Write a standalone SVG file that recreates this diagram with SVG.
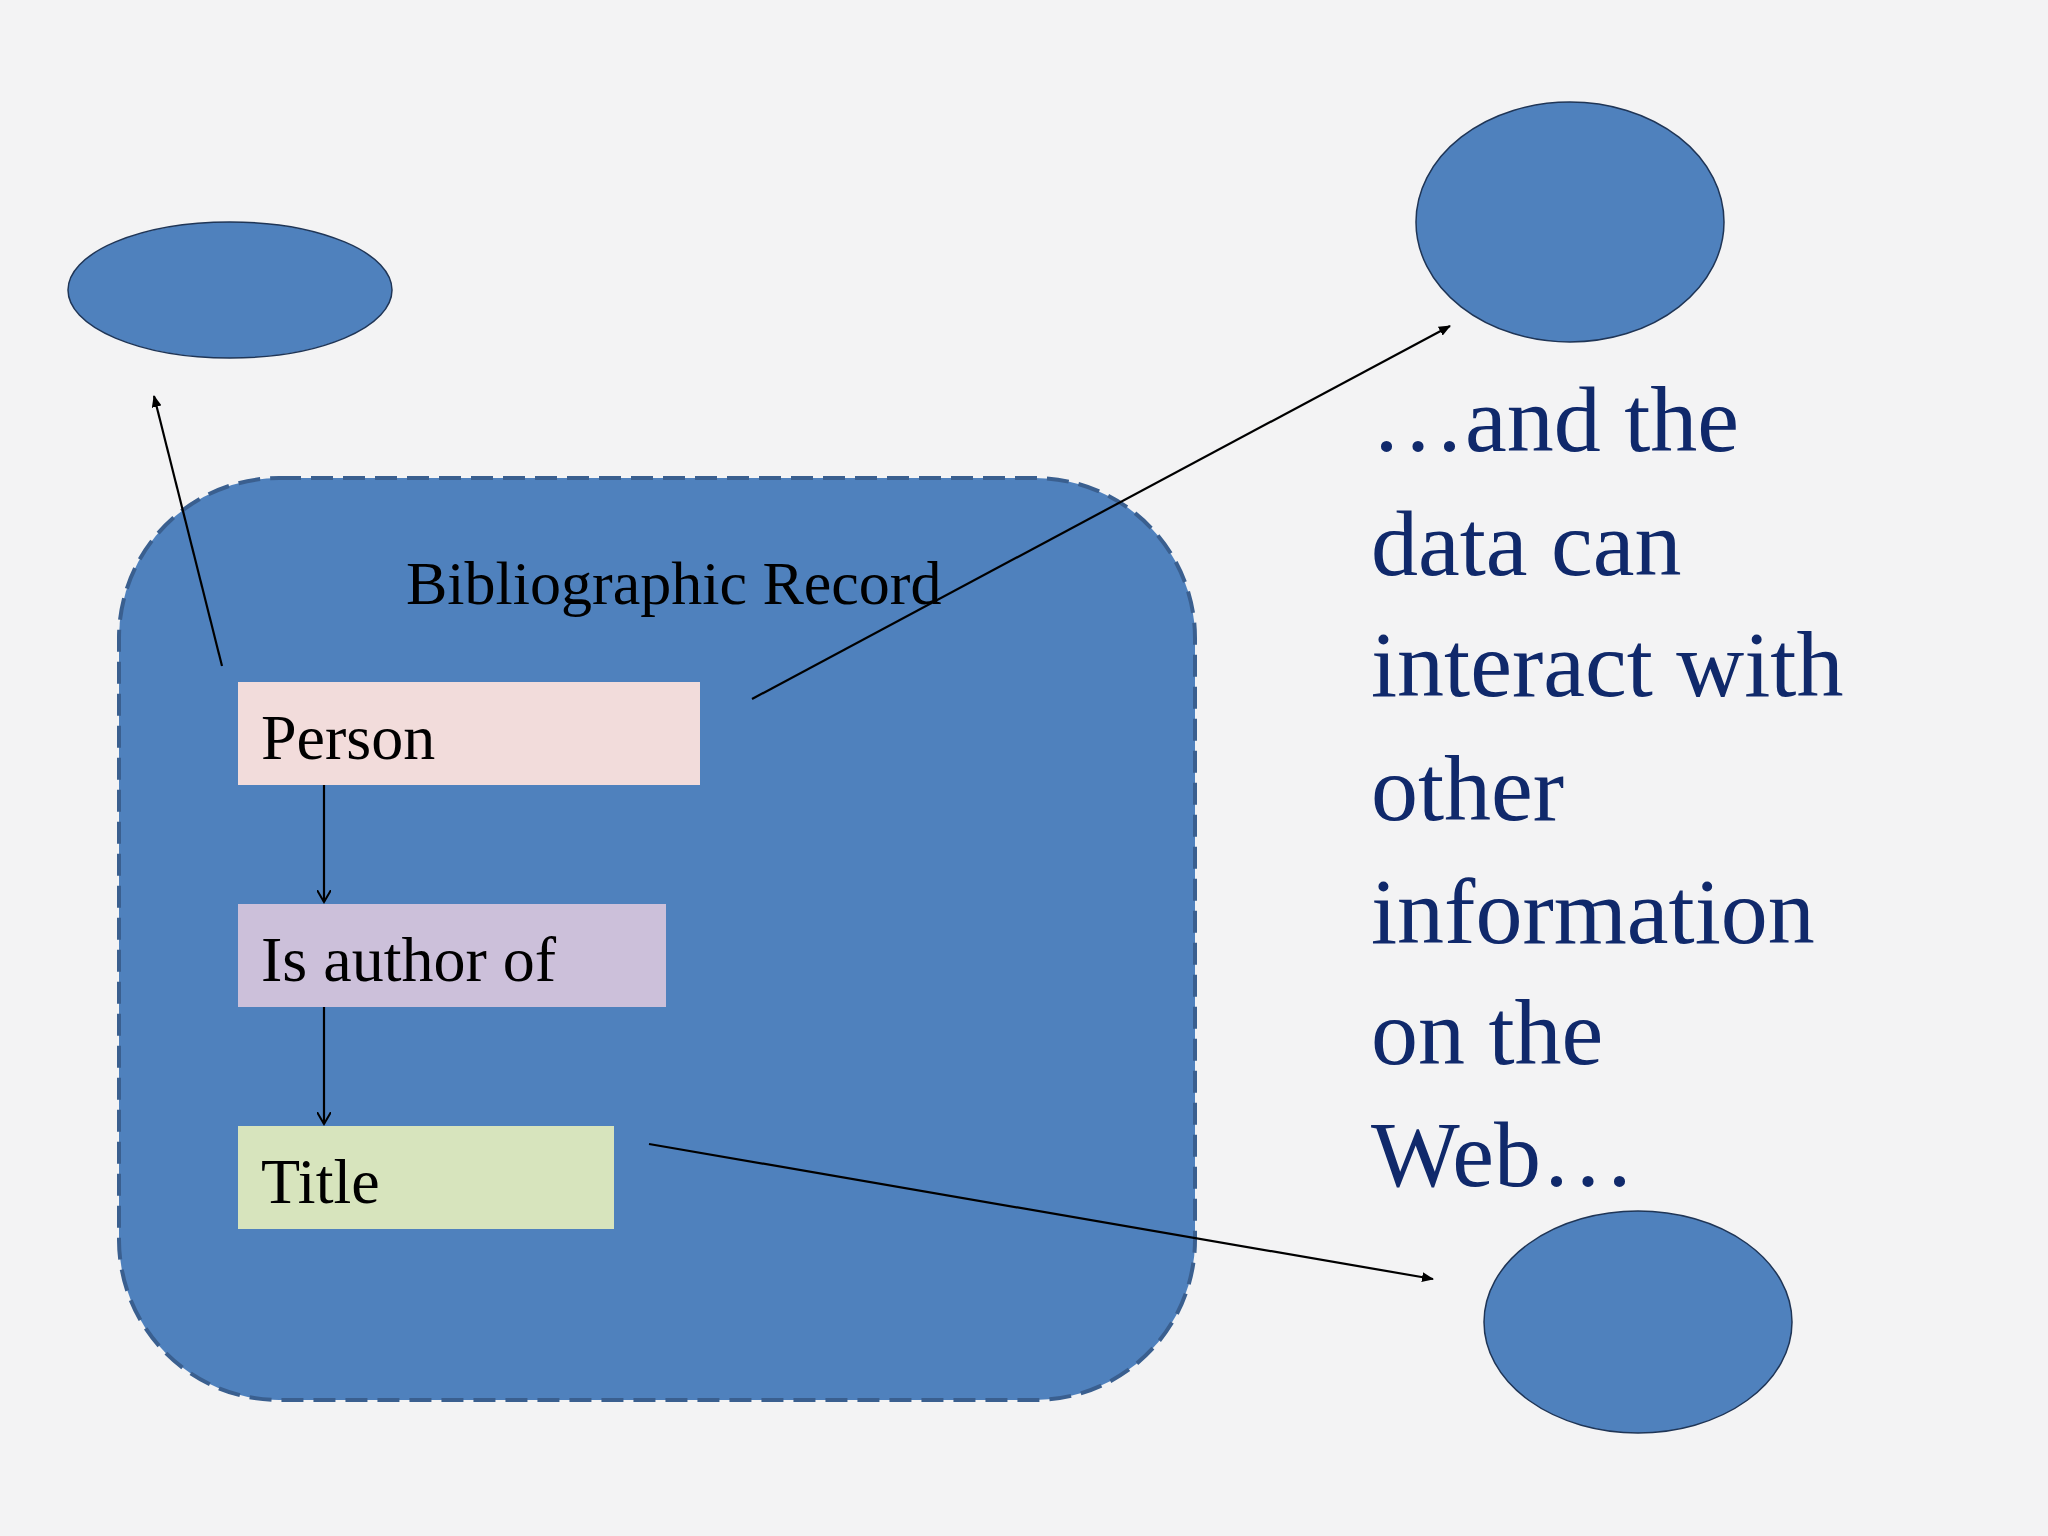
<svg xmlns="http://www.w3.org/2000/svg" width="2048" height="1536" viewBox="0 0 2048 1536">
<defs>
<marker id="tri" markerWidth="12" markerHeight="10" refX="11" refY="5" orient="auto" markerUnits="userSpaceOnUse"><path d="M0,0 L12,5 L0,10 z" fill="#000"/></marker>
<marker id="vee" markerWidth="14" markerHeight="14" refX="12" refY="7" orient="auto" markerUnits="userSpaceOnUse"><path d="M0,0 L12,7 L0,14" fill="none" stroke="#000" stroke-width="2"/></marker>
<style>
.blob{fill:#4f81bd;stroke:#1f3556;stroke-width:1.5}
.lbl{font-family:"Liberation Serif",serif;fill:#000}
.side{font-family:"Liberation Serif",serif;font-size:94px;fill:#10296b}
.ln{stroke:#000;stroke-width:2.2;fill:none}
</style>
</defs>
<rect width="2048" height="1536" fill="#f3f3f4"/>
<g id="record">
<rect x="119" y="478" width="1076" height="922" rx="160" fill="#4f81bd" stroke="#3a5f8f" stroke-width="4" stroke-dasharray="22,10"/>
<text class="lbl" x="406" y="604" font-size="62">Bibliographic Record</text>
</g>
<g id="ellipse-tl"><ellipse class="blob" cx="230" cy="290" rx="162" ry="68"/></g>
<g id="ellipse-tr"><ellipse class="blob" cx="1570" cy="222" rx="154" ry="120"/></g>
<g id="ellipse-br"><ellipse class="blob" cx="1638" cy="1322" rx="154" ry="111"/></g>
<g id="person"><rect x="238" y="682" width="462" height="103" fill="#f2dcdb"/><text class="lbl" x="261" y="759" font-size="64">Person</text></g>
<g id="author"><rect x="238" y="904" width="428" height="103" fill="#ccc0da"/><text class="lbl" x="261" y="981" font-size="64">Is author of</text></g>
<g id="title"><rect x="238" y="1126" width="376" height="103" fill="#d7e4bd"/><text class="lbl" x="261" y="1203" font-size="64">Title</text></g>
<g id="connectors">
<line class="ln" x1="222" y1="666" x2="154" y2="396" marker-end="url(#tri)"/>
<line class="ln" x1="752" y1="699" x2="1450" y2="326" marker-end="url(#tri)"/>
<line class="ln" x1="324" y1="785" x2="324" y2="902" marker-end="url(#vee)"/>
<line class="ln" x1="324" y1="1007" x2="324" y2="1124" marker-end="url(#vee)"/>
<line class="ln" x1="649" y1="1144" x2="1433" y2="1279" marker-end="url(#tri)"/>
</g>
<g id="caption">
<text class="side" x="1371" y="451">…and the</text>
<text class="side" x="1371" y="575">data can</text>
<text class="side" x="1371" y="696">interact with</text>
<text class="side" x="1371" y="820">other</text>
<text class="side" x="1371" y="943">information</text>
<text class="side" x="1371" y="1064">on the</text>
<text class="side" x="1371" y="1186">Web…</text>
</g>
</svg>
